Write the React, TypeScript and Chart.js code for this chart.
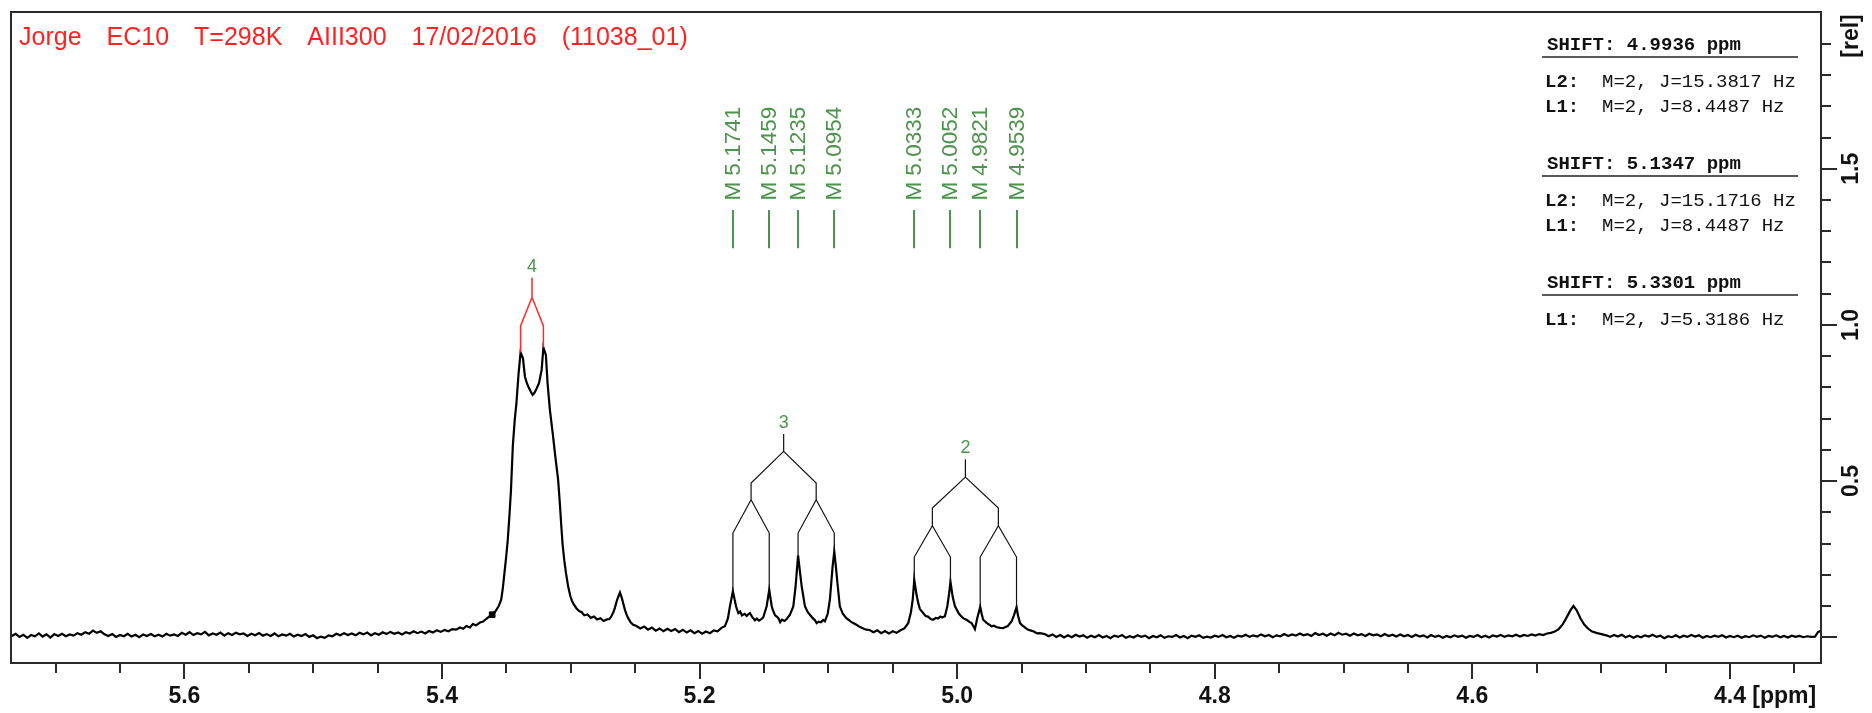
import React, { useEffect, useRef } from "react";
import { Chart, registerables } from "chart.js";

Chart.register(...registerables);

// ---------- axis ranges ----------
const X_MIN = 4.3293;
const X_MAX = 5.7346;
const Y_MIN = -0.0826;
const Y_MAX = 2.002;

// ---------- tick values ----------
const xMajorTicks = [5.6, 5.4, 5.2, 5.0, 4.8, 4.6, 4.4];
const xMajorLabels = ["5.6", "5.4", "5.2", "5.0", "4.8", "4.6", "4.4"];
const xMinorTicks = [5.7, 5.65, 5.55, 5.5, 5.45, 5.35, 5.3, 5.25, 5.15, 5.1, 5.05, 4.95, 4.9, 4.85, 4.75, 4.7, 4.65, 4.55, 4.5, 4.45, 4.35];
const yMajorTicks = [0, 0.5, 1.0, 1.5];
const yLabelTicks = [0.5, 1.0, 1.5];
const yLabels = ["0.5", "1.0", "1.5"];
const yMinorTicks = [0.1, 0.2, 0.3, 0.4, 0.6, 0.7, 0.8, 0.9, 1.1, 1.2, 1.3, 1.4, 1.6, 1.7, 1.8, 1.9];

// ---------- spectrum (ppm, rel) ----------
const baselineLeft: [number, number][] = [
  [5.734, 0.004], [5.731, 0.011], [5.728, 0.001], [5.725, 0.008], [5.722, -0.002], [5.719, 0.007],
  [5.716, 0.003], [5.713, 0.012], [5.710, 0.002], [5.707, 0.009], [5.704, -0.001], [5.701, 0.010],
  [5.698, 0.004], [5.695, 0.011], [5.692, 0.003], [5.689, 0.009], [5.686, 0.005], [5.683, 0.013],
  [5.680, 0.008], [5.677, 0.016], [5.674, 0.011], [5.671, 0.021], [5.668, 0.014], [5.665, 0.019],
  [5.662, 0.009], [5.659, 0.004], [5.656, 0.010], [5.653, 0.001], [5.650, 0.007], [5.647, 0.003],
  [5.644, 0.011], [5.641, 0.002], [5.638, 0.008], [5.635, 0.000], [5.632, 0.009], [5.629, 0.004],
  [5.626, 0.010], [5.623, 0.003], [5.620, 0.008], [5.617, 0.002], [5.614, 0.011], [5.611, 0.005],
  [5.608, 0.009], [5.605, 0.004], [5.602, 0.014], [5.599, 0.008], [5.596, 0.016], [5.593, 0.007],
  [5.590, 0.013], [5.587, 0.009], [5.584, 0.017], [5.581, 0.006], [5.578, 0.012], [5.575, 0.008],
  [5.572, 0.015], [5.569, 0.005], [5.566, 0.013], [5.563, 0.007], [5.560, 0.014], [5.557, 0.009],
  [5.554, 0.012], [5.551, 0.004], [5.548, 0.011], [5.545, 0.006], [5.542, 0.013], [5.539, 0.005],
  [5.536, 0.010], [5.533, 0.004], [5.530, 0.012], [5.527, 0.003], [5.524, 0.009], [5.521, 0.005],
  [5.518, 0.011], [5.515, 0.002], [5.512, 0.008], [5.509, 0.004], [5.506, 0.010], [5.503, 0.001],
  [5.500, 0.006], [5.497, -0.003], [5.494, 0.002], [5.491, -0.002], [5.488, 0.006], [5.485, 0.003],
  [5.482, 0.011], [5.479, 0.006], [5.476, 0.013], [5.473, 0.007], [5.470, 0.012], [5.467, 0.006],
  [5.464, 0.014], [5.461, 0.009], [5.458, 0.015], [5.455, 0.006], [5.452, 0.013], [5.449, 0.008],
  [5.446, 0.016], [5.443, 0.010], [5.440, 0.017], [5.437, 0.011], [5.434, 0.015], [5.431, 0.009],
  [5.428, 0.016], [5.425, 0.012], [5.422, 0.019], [5.419, 0.013], [5.416, 0.018], [5.413, 0.012],
  [5.410, 0.020], [5.407, 0.015], [5.404, 0.022], [5.401, 0.017], [5.398, 0.023], [5.395, 0.019],
  [5.392, 0.026], [5.389, 0.024],
];

const peak4Region: [number, number][] = [
  [5.3860, 0.031], [5.3835, 0.027], [5.3810, 0.036], [5.3783, 0.031], [5.3760, 0.042], [5.3735, 0.038],
  [5.3705, 0.047], [5.3680, 0.050], [5.3655, 0.059], [5.3627, 0.068], [5.3605, 0.074], [5.3585, 0.083],
  [5.3560, 0.099], [5.3540, 0.120], [5.3527, 0.158], [5.3515, 0.205], [5.3502, 0.255], [5.3489, 0.312],
  [5.3476, 0.390], [5.3464, 0.472], [5.3450, 0.611], [5.3435, 0.696], [5.3422, 0.749], [5.3405, 0.845],
  [5.33896, 0.912], [5.3371, 0.893], [5.3356, 0.835], [5.3342, 0.815], [5.3330, 0.803], [5.3310, 0.786],
  [5.3296, 0.776], [5.3283, 0.782], [5.3270, 0.792], [5.3247, 0.813], [5.3226, 0.856], [5.32124, 0.928],
  [5.3193, 0.904], [5.3180, 0.813], [5.3162, 0.728], [5.3140, 0.653], [5.3120, 0.579], [5.3098, 0.504],
  [5.3085, 0.430], [5.3074, 0.360], [5.3064, 0.300], [5.3050, 0.245], [5.3037, 0.205], [5.3020, 0.162],
  [5.3003, 0.131], [5.2990, 0.116], [5.2975, 0.104], [5.2955, 0.092], [5.2935, 0.084], [5.2915, 0.080],
  [5.2895, 0.070], [5.2870, 0.073], [5.2845, 0.062], [5.2820, 0.066], [5.2795, 0.057], [5.2770, 0.061],
  [5.2745, 0.052], [5.2720, 0.057], [5.2700, 0.058], [5.2685, 0.067], [5.2670, 0.079], [5.2658, 0.093],
  [5.2640, 0.120], [5.2618, 0.143], [5.2603, 0.125], [5.2590, 0.104], [5.2580, 0.088], [5.2566, 0.072],
  [5.2554, 0.061], [5.2535, 0.048], [5.2515, 0.040],
];

const baselineMid1: [number, number][] = [
  [5.249, 0.036], [5.246, 0.028], [5.243, 0.034], [5.240, 0.024], [5.237, 0.031], [5.234, 0.021],
  [5.231, 0.028], [5.228, 0.019], [5.225, 0.027], [5.222, 0.020], [5.219, 0.026], [5.216, 0.016],
  [5.213, 0.024], [5.210, 0.015], [5.207, 0.022], [5.204, 0.013], [5.201, 0.020], [5.198, 0.011],
  [5.195, 0.018], [5.192, 0.013], [5.189, 0.022], [5.186, 0.019], [5.183, 0.030],
];

const multiplet3Region: [number, number][] = [
  [5.1803, 0.035], [5.1780, 0.060], [5.1764, 0.099], [5.1741, 0.147], [5.1717, 0.099], [5.1699, 0.077],
  [5.1685, 0.082], [5.1671, 0.070], [5.1650, 0.075], [5.1634, 0.068], [5.1620, 0.074], [5.1609, 0.077],
  [5.1593, 0.066], [5.1570, 0.054], [5.1555, 0.060], [5.1539, 0.053], [5.1520, 0.058], [5.1505, 0.064],
  [5.1479, 0.099], [5.1459, 0.152], [5.1440, 0.100], [5.1432, 0.088], [5.1414, 0.070], [5.1400, 0.066],
  [5.1388, 0.061], [5.1374, 0.048], [5.1360, 0.056], [5.1340, 0.052], [5.1324, 0.058], [5.1298, 0.072],
  [5.1272, 0.099], [5.1255, 0.160], [5.1235, 0.262], [5.1218, 0.200], [5.1207, 0.163], [5.1182, 0.099],
  [5.1160, 0.080], [5.1143, 0.072], [5.1120, 0.060], [5.1105, 0.055], [5.1091, 0.045], [5.1075, 0.050],
  [5.1058, 0.048], [5.1040, 0.055], [5.1027, 0.051], [5.1005, 0.075], [5.0988, 0.120], [5.0967, 0.227],
  [5.0954, 0.274], [5.0940, 0.220], [5.0932, 0.184], [5.0911, 0.099], [5.0888, 0.075], [5.0860, 0.061],
  [5.0840, 0.055], [5.0826, 0.050], [5.0800, 0.044], [5.0782, 0.040], [5.0760, 0.034], [5.0741, 0.030],
  [5.0720, 0.026], [5.0705, 0.024],
];

const baselineMid2: [number, number][] = [
  [5.068, 0.023], [5.065, 0.016], [5.062, 0.022], [5.059, 0.013], [5.056, 0.020], [5.053, 0.012],
  [5.050, 0.019], [5.047, 0.014], [5.044, 0.022], [5.041, 0.028],
];

const multiplet2Region: [number, number][] = [
  [5.0380, 0.045], [5.0359, 0.080], [5.0345, 0.120], [5.0333, 0.184], [5.0315, 0.135], [5.0302, 0.109],
  [5.0289, 0.090], [5.0263, 0.077], [5.0245, 0.068], [5.0227, 0.066], [5.0205, 0.058], [5.0186, 0.056],
  [5.0165, 0.062], [5.0149, 0.060], [5.0130, 0.066], [5.0118, 0.063], [5.0095, 0.067], [5.0076, 0.100],
  [5.0062, 0.141], [5.0052, 0.178], [5.0035, 0.130], [5.0017, 0.099], [4.9986, 0.075], [4.9970, 0.068],
  [4.9953, 0.061], [4.9940, 0.058], [4.9924, 0.055], [4.9905, 0.049], [4.9888, 0.045], [4.9875, 0.036],
  [4.9862, 0.026], [4.9844, 0.061], [4.9821, 0.097], [4.9810, 0.075], [4.9798, 0.056], [4.9769, 0.045],
  [4.9750, 0.040], [4.9733, 0.035], [4.9715, 0.037], [4.9691, 0.032], [4.9665, 0.030], [4.9642, 0.029],
  [4.9625, 0.033], [4.9606, 0.036], [4.9577, 0.051], [4.9559, 0.070], [4.9539, 0.096], [4.9528, 0.070],
  [4.9512, 0.045], [4.9495, 0.038], [4.9481, 0.034], [4.9465, 0.028], [4.9448, 0.024], [4.9425, 0.021],
  [4.9404, 0.018], [4.9380, 0.012], [4.9357, 0.013],
];

const baselineRight: [number, number][] = [
  [4.932, 0.010], [4.929, 0.003], [4.926, 0.009], [4.923, 0.001], [4.920, 0.007], [4.917, -0.001],
  [4.914, 0.006], [4.911, 0.000], [4.908, 0.008], [4.905, 0.002], [4.902, 0.006], [4.899, -0.002],
  [4.896, 0.005], [4.893, 0.000], [4.890, 0.007], [4.887, -0.001], [4.884, 0.004], [4.881, -0.003],
  [4.878, 0.005], [4.875, 0.001], [4.872, 0.007], [4.869, -0.002], [4.866, 0.003], [4.863, -0.001],
  [4.860, 0.006], [4.857, 0.001], [4.854, 0.005], [4.851, -0.003], [4.848, 0.004], [4.845, 0.000],
  [4.842, 0.006], [4.839, -0.002], [4.836, 0.003], [4.833, 0.001], [4.830, 0.007], [4.827, -0.001],
  [4.824, 0.004], [4.821, -0.003], [4.818, 0.005], [4.815, 0.001], [4.812, 0.006], [4.809, -0.002],
  [4.806, 0.002], [4.803, -0.001], [4.800, 0.005], [4.797, 0.001], [4.794, 0.007], [4.791, 0.000],
  [4.788, 0.004], [4.785, -0.002], [4.782, 0.005], [4.779, 0.002], [4.776, 0.008], [4.773, 0.001],
  [4.770, 0.006], [4.767, 0.002], [4.764, 0.009], [4.761, 0.003], [4.758, 0.007], [4.755, 0.000],
  [4.752, 0.006], [4.749, 0.003], [4.746, 0.010], [4.743, 0.004], [4.740, 0.009], [4.737, 0.005],
  [4.734, 0.012], [4.731, 0.006], [4.728, 0.010], [4.725, 0.004], [4.722, 0.013], [4.719, 0.007],
  [4.716, 0.011], [4.713, 0.005], [4.710, 0.012], [4.707, 0.006], [4.704, 0.014], [4.701, 0.008],
  [4.698, 0.011], [4.695, 0.005], [4.692, 0.012], [4.689, 0.006], [4.686, 0.010], [4.683, 0.004],
  [4.680, 0.011], [4.677, 0.006], [4.674, 0.009], [4.671, 0.003], [4.668, 0.010], [4.665, 0.004],
  [4.662, 0.008], [4.659, 0.002], [4.656, 0.009], [4.653, 0.003], [4.650, 0.007], [4.647, 0.001],
  [4.644, 0.008], [4.641, 0.002], [4.638, 0.006], [4.635, -0.001], [4.632, 0.007], [4.629, 0.001],
  [4.626, 0.005], [4.623, -0.002], [4.620, 0.004], [4.617, 0.000], [4.614, 0.006], [4.611, 0.001],
  [4.608, 0.005], [4.605, -0.002], [4.602, 0.004], [4.599, 0.001], [4.596, 0.007], [4.593, 0.000],
  [4.590, 0.005], [4.587, -0.001], [4.584, 0.006], [4.581, 0.002], [4.578, 0.007], [4.575, 0.001],
  [4.572, 0.006], [4.569, 0.003], [4.566, 0.008], [4.563, 0.002], [4.560, 0.007], [4.557, 0.004],
  [4.554, 0.009], [4.551, 0.005], [4.548, 0.010], [4.545, 0.007], [4.542, 0.012],
];

const peak452Region: [number, number][] = [
  [4.539, 0.014], [4.536, 0.018], [4.533, 0.026], [4.530, 0.040], [4.527, 0.062], [4.524, 0.085],
  [4.5215, 0.100], [4.519, 0.086], [4.516, 0.060], [4.513, 0.040], [4.510, 0.027], [4.507, 0.018],
  [4.503, 0.013], [4.499, 0.009],
];

const baselineEnd: [number, number][] = [
  [4.496, 0.006], [4.493, 0.001], [4.490, 0.007], [4.487, 0.002], [4.484, 0.008], [4.481, 0.000],
  [4.478, 0.005], [4.475, -0.002], [4.472, 0.004], [4.469, 0.000], [4.466, 0.006], [4.463, 0.002],
  [4.460, 0.008], [4.457, 0.001], [4.454, 0.005], [4.451, -0.003], [4.448, 0.003], [4.445, 0.000],
  [4.442, 0.006], [4.439, -0.001], [4.436, 0.005], [4.433, 0.001], [4.430, 0.007], [4.427, 0.002],
  [4.424, 0.006], [4.421, -0.002], [4.418, 0.004], [4.415, 0.000], [4.412, 0.005], [4.409, 0.001],
  [4.406, 0.006], [4.403, -0.001], [4.400, 0.004], [4.397, 0.000], [4.394, 0.005], [4.391, -0.002],
  [4.388, 0.003], [4.385, 0.000], [4.382, 0.006], [4.379, 0.001], [4.376, 0.005], [4.373, -0.002],
  [4.370, 0.004], [4.367, 0.001], [4.364, 0.006], [4.361, 0.000], [4.358, 0.004], [4.355, -0.001],
  [4.352, 0.005], [4.349, 0.001], [4.346, 0.004], [4.343, 0.000], [4.340, 0.003], [4.337, 0.001],
  [4.334, 0.002], [4.3315, 0.017], [4.3295, 0.020],
];

const markerPoint: [number, number][] = [[5.3610, 0.072]];

// ---------- peak-picking labels ----------
const peakPpm = [5.1741, 5.1459, 5.1235, 5.0954, 5.0333, 5.0052, 4.9821, 4.9539];
const peakLabels = ["M 5.1741", "M 5.1459", "M 5.1235", "M 5.0954", "M 5.0333", "M 5.0052", "M 4.9821", "M 4.9539"];
const peakLabelStart = 1.398;
const peakTickTop = 1.368;
const peakTickBottom = 1.2454;

// ---------- multiplet trees ----------
const tree3Center = 5.1347;
const tree3Mid = [5.16, 5.10945];
const tree3Leaves = [5.1741, 5.1459, 5.1235, 5.0954];
const tree3LeafHeights = [0.147, 0.152, 0.262, 0.274];
const tree3Levels = [0.685, 0.651, 0.595, 0.4934, 0.44, 0.3334]; // label, stemTop, stemBottom, midTop, midBottom, leafTop

const tree2Center = 4.9936;
const tree2Mid = [5.01925, 4.968];
const tree2Leaves = [5.0333, 5.0052, 4.9821, 4.9539];
const tree2LeafHeights = [0.184, 0.178, 0.097, 0.096];
const tree2Levels = [0.605, 0.57, 0.5126, 0.4134, 0.3568, 0.2566];

const tree4Center = 5.3301;
const tree4Leaves = [5.33896, 5.32124];
const tree4LeafHeights = [0.912, 0.928];
const tree4Levels = [1.1866, 1.151, 1.0886, 0.9968]; // label, stemTop, stemBottom, leafTop

// ---------- text ----------
const titleWords = ["Jorge", "EC10", "T=298K", "AIII300", "17/02/2016", "(11038_01)"];
const shiftHeaders = ["SHIFT: 4.9936 ppm", "SHIFT: 5.1347 ppm", "SHIFT: 5.3301 ppm"];
const couplingRows: [string, string][][] = [
  [["L2:", "M=2, J=15.3817 Hz"], ["L1:", "M=2, J=8.4487 Hz"]],
  [["L2:", "M=2, J=15.1716 Hz"], ["L1:", "M=2, J=8.4487 Hz"]],
  [["L1:", "M=2, J=5.3186 Hz"]],
];

const SANS = "'Liberation Sans', Arial, sans-serif";
const MONO = "'Liberation Mono', 'DejaVu Sans Mono', monospace";
const GREEN = "#4e944e";

const overlayPlugin = {
  id: "nmrOverlay",
  afterDatasetsDraw(chart: any) {
    const { ctx, chartArea: a } = chart;
    const xs = chart.scales.x;
    const ys = chart.scales.y;
    const X = (v: number) => xs.getPixelForValue(v);
    const Y = (v: number) => ys.getPixelForValue(v);
    ctx.save();

    // frame
    ctx.strokeStyle = "#2a2a2a";
    ctx.lineWidth = 2;
    ctx.strokeRect(a.left, a.top, a.right - a.left, a.bottom - a.top);

    // x ticks
    ctx.beginPath();
    xMajorTicks.forEach((v) => {
      const px = Math.round(X(v));
      ctx.moveTo(px, a.bottom);
      ctx.lineTo(px, a.bottom + 16);
    });
    xMinorTicks.forEach((v) => {
      const px = Math.round(X(v));
      ctx.moveTo(px, a.bottom);
      ctx.lineTo(px, a.bottom + 10);
    });
    // y ticks
    yMajorTicks.forEach((v) => {
      const py = Math.round(Y(v));
      ctx.moveTo(a.right, py);
      ctx.lineTo(a.right + 16, py);
    });
    yMinorTicks.forEach((v) => {
      const py = Math.round(Y(v));
      ctx.moveTo(a.right, py);
      ctx.lineTo(a.right + 10, py);
    });
    ctx.stroke();

    // x labels
    ctx.fillStyle = "#111";
    ctx.font = `bold 23px ${SANS}`;
    ctx.textAlign = "center";
    ctx.textBaseline = "middle";
    const labelY = a.bottom + 34;
    xMajorTicks.forEach((v, i) => {
      ctx.fillText(xMajorLabels[i], X(v), labelY);
    });
    const lastX = X(xMajorTicks[xMajorTicks.length - 1]);
    const halfW = ctx.measureText(xMajorLabels[xMajorLabels.length - 1]).width / 2;
    ctx.textAlign = "left";
    ctx.fillText("[ppm]", lastX + halfW + ctx.measureText(" ").width, labelY);

    // y labels (rotated)
    const ylx = a.right + 31;
    yLabelTicks.forEach((v, i) => {
      ctx.save();
      ctx.translate(ylx, Y(v));
      ctx.rotate(-Math.PI / 2);
      ctx.textAlign = "center";
      ctx.textBaseline = "middle";
      ctx.fillText(yLabels[i], 0, 0);
      ctx.restore();
    });
    ctx.save();
    ctx.translate(ylx, a.top + 24);
    ctx.rotate(-Math.PI / 2);
    ctx.textAlign = "center";
    ctx.textBaseline = "middle";
    ctx.fillText("[rel]", 0, 0);
    ctx.restore();

    // title
    ctx.fillStyle = "#ff2222";
    ctx.font = `25px ${SANS}`;
    ctx.textAlign = "left";
    ctx.textBaseline = "alphabetic";
    let tx = a.left + 8;
    titleWords.forEach((w) => {
      ctx.fillText(w, tx, a.top + 33);
      tx += ctx.measureText(w).width + 25;
    });

    // peak labels
    ctx.fillStyle = GREEN;
    ctx.strokeStyle = GREEN;
    ctx.lineWidth = 2;
    ctx.font = `22.5px ${SANS}`;
    peakPpm.forEach((p, i) => {
      const px = Math.round(X(p));
      ctx.beginPath();
      ctx.moveTo(px, Y(peakTickTop));
      ctx.lineTo(px, Y(peakTickBottom));
      ctx.stroke();
      ctx.save();
      ctx.translate(px + 6.5, Y(peakLabelStart));
      ctx.rotate(-Math.PI / 2);
      ctx.textAlign = "left";
      ctx.textBaseline = "alphabetic";
      ctx.fillText(peakLabels[i], 0, 0);
      ctx.restore();
    });

    // multiplet trees
    const drawTree = (center: number, mids: number[], leaves: number[], heights: number[], lv: number[], label: string) => {
      ctx.strokeStyle = "#111";
      ctx.lineWidth = 1.2;
      ctx.beginPath();
      ctx.moveTo(X(center), Y(lv[1]));
      ctx.lineTo(X(center), Y(lv[2]));
      mids.forEach((m, mi) => {
        ctx.moveTo(X(center), Y(lv[2]));
        ctx.lineTo(X(m), Y(lv[3]));
        ctx.lineTo(X(m), Y(lv[4]));
        [leaves[mi * 2], leaves[mi * 2 + 1]].forEach((l, li) => {
          ctx.moveTo(X(m), Y(lv[4]));
          ctx.lineTo(X(l), Y(lv[5]));
          ctx.lineTo(X(l), Y(heights[mi * 2 + li]));
        });
      });
      ctx.stroke();
      ctx.fillStyle = GREEN;
      ctx.font = `18px ${SANS}`;
      ctx.textAlign = "center";
      ctx.textBaseline = "middle";
      ctx.fillText(label, X(center), Y(lv[0]));
    };
    drawTree(tree3Center, tree3Mid, tree3Leaves, tree3LeafHeights, tree3Levels, "3");
    drawTree(tree2Center, tree2Mid, tree2Leaves, tree2LeafHeights, tree2Levels, "2");

    ctx.strokeStyle = "#ff2a2a";
    ctx.lineWidth = 1.5;
    ctx.beginPath();
    ctx.moveTo(X(tree4Center), Y(tree4Levels[1]));
    ctx.lineTo(X(tree4Center), Y(tree4Levels[2]));
    tree4Leaves.forEach((l, i) => {
      ctx.moveTo(X(tree4Center), Y(tree4Levels[2]));
      ctx.lineTo(X(l), Y(tree4Levels[3]));
      ctx.lineTo(X(l), Y(tree4LeafHeights[i]));
    });
    ctx.stroke();
    ctx.fillStyle = GREEN;
    ctx.font = `18px ${SANS}`;
    ctx.textAlign = "center";
    ctx.textBaseline = "middle";
    ctx.fillText("4", X(tree4Center), Y(tree4Levels[0]));

    // right info box
    const boxLeft = 1542;
    const boxRight = 1798;
    ctx.fillStyle = "#111";
    ctx.strokeStyle = "#222";
    ctx.lineWidth = 1.5;
    shiftHeaders.forEach((h, gi) => {
      const hy = 45 + 119 * gi;
      ctx.font = `bold 19px ${MONO}`;
      ctx.textAlign = "left";
      ctx.textBaseline = "middle";
      ctx.fillText(h, boxLeft + 5, hy);
      ctx.beginPath();
      ctx.moveTo(boxLeft, hy + 12);
      ctx.lineTo(boxRight, hy + 12);
      ctx.stroke();
      couplingRows[gi].forEach((row, ri) => {
        const ry = hy + 37 + 25 * ri;
        ctx.font = `bold 19px ${MONO}`;
        ctx.fillText(row[0], boxLeft + 3, ry);
        const cw = ctx.measureText("M").width;
        ctx.font = `19px ${MONO}`;
        ctx.fillText(row[1], boxLeft + 3 + cw * 5, ry);
      });
    });

    ctx.restore();
  },
};

function toXY(arr: [number, number][]) {
  return arr.map(([x, y]) => ({ x, y }));
}

export default function App() {
  const ref = useRef<HTMLCanvasElement>(null);
  useEffect(() => {
    document.body.style.margin = "0";
    const spectrum = [
      ...baselineLeft, ...peak4Region, ...baselineMid1, ...multiplet3Region, ...baselineMid2,
      ...multiplet2Region, ...baselineRight, ...peak452Region, ...baselineEnd,
    ];
    const chart = new Chart(ref.current!, {
      type: "line",
      data: {
        datasets: [
          {
            data: toXY(spectrum),
            borderColor: "#000",
            borderWidth: 2.2,
            pointRadius: 0,
            tension: 0,
            fill: false,
          },
          {
            data: toXY(markerPoint),
            showLine: false,
            pointStyle: "rect",
            pointRadius: 4,
            backgroundColor: "#000",
            borderColor: "#000",
          },
        ],
      },
      options: {
        animation: false,
        responsive: false,
        devicePixelRatio: 1,
        layout: { padding: { left: 11, top: 12, right: 51, bottom: 50 } },
        plugins: { legend: { display: false }, tooltip: { enabled: false } },
        scales: {
          x: { type: "linear", reverse: true, min: X_MIN, max: X_MAX, display: false },
          y: { type: "linear", min: Y_MIN, max: Y_MAX, display: false },
        },
      },
      plugins: [overlayPlugin],
    } as any);
    return () => chart.destroy();
  }, []);
  return (
    <div style={{ position: "absolute", left: 0, top: 0, width: 1872, height: 713, background: "#fff" }}>
      <canvas ref={ref} width={1872} height={713} style={{ display: "block", width: 1872, height: 713 }} />
    </div>
  );
}
